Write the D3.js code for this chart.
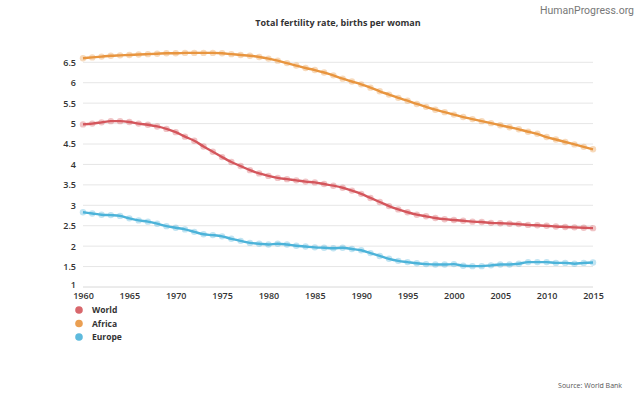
<!DOCTYPE html>
<html><head><meta charset="utf-8">
<script src="https://cdn.jsdelivr.net/npm/d3@7"></script>
<style>
html,body{margin:0;padding:0;background:#fff;}
svg{display:block;font-family:"Open Sans",sans-serif;}
</style></head>
<body>
<svg id="chart" width="643" height="398"></svg>
<script>
const years = d3.range(1960, 2016);
const world = [4.98,5.00,5.03,5.06,5.06,5.04,5.00,4.97,4.93,4.87,4.79,4.68,4.58,4.44,4.31,4.18,4.06,3.96,3.86,3.78,3.72,3.67,3.64,3.61,3.58,3.56,3.52,3.48,3.43,3.36,3.28,3.18,3.08,2.98,2.90,2.83,2.77,2.73,2.69,2.66,2.64,2.62,2.60,2.59,2.57,2.56,2.55,2.54,2.52,2.51,2.50,2.48,2.47,2.46,2.45,2.44];
const africa = [6.60,6.62,6.64,6.66,6.67,6.68,6.69,6.70,6.71,6.72,6.72,6.73,6.73,6.73,6.73,6.72,6.70,6.68,6.66,6.63,6.59,6.54,6.48,6.42,6.36,6.31,6.25,6.18,6.10,6.03,5.96,5.88,5.79,5.71,5.63,5.56,5.48,5.41,5.34,5.28,5.22,5.16,5.11,5.06,5.01,4.96,4.91,4.86,4.80,4.75,4.67,4.61,4.55,4.49,4.43,4.37];
const europe = [2.83,2.80,2.77,2.76,2.74,2.68,2.63,2.60,2.55,2.49,2.45,2.41,2.35,2.29,2.27,2.24,2.18,2.13,2.08,2.06,2.04,2.06,2.04,2.01,1.99,1.97,1.96,1.95,1.96,1.93,1.90,1.83,1.76,1.69,1.64,1.61,1.58,1.56,1.55,1.55,1.56,1.52,1.51,1.51,1.53,1.55,1.55,1.57,1.61,1.61,1.61,1.59,1.59,1.57,1.59,1.60];
const seriesNames = ["World","Africa","Europe"];
const seriesColors = ["#d4565c","#e8953f","#4cb3d9"];
const yTicks = [1,1.5,2,2.5,3,3.5,4,4.5,5,5.5,6,6.5];
const xTicks = [1960,1965,1970,1975,1980,1985,1990,1995,2000,2005,2010,2015];
const title = "Total fertility rate, births per woman";
const source = "Source: World Bank";
const brand = "HumanProgress.org";

const svg = d3.select("#chart");
const x = d3.scaleLinear().domain([1960, 2015]).range([83, 593]);
const y = d3.scaleLinear().domain([1, 6.5]).range([287, 62.3]);

// gridlines
svg.append("g").selectAll("line").data(yTicks).join("line")
  .attr("x1", x(1960)).attr("x2", x(2015))
  .attr("y1", d => y(d)).attr("y2", d => y(d))
  .attr("stroke", d => d === 1 ? "#d8d8d8" : "#e6e6e6").attr("stroke-width", 1);

// y axis labels
const yAxis = d3.axisLeft(y).tickValues(yTicks).tickSize(0).tickPadding(7).tickFormat(d3.format("~g"));
const gy = svg.append("g").attr("transform", `translate(${x(1960)},0)`).call(yAxis);
gy.select(".domain").remove();
gy.selectAll("text").attr("font-size", 9).attr("font-weight", 600).attr("fill", "#333").attr("font-family", "Open Sans");
gy.selectAll(".tick").filter(d => d === 1).select("text").attr("dy", "0.1em");

// x axis labels
const xAxis = d3.axisBottom(x).tickValues(xTicks).tickSize(0).tickPadding(6).tickFormat(d3.format("d"));
const gx = svg.append("g").attr("transform", `translate(0,${y(1)})`).call(xAxis);
gx.select(".domain").remove();
gx.selectAll("text").attr("font-size", 9).attr("font-weight", 600).attr("fill", "#333").attr("font-family", "Open Sans");

// series
const data = [world, africa, europe];
const line = d3.line().x((d, i) => x(years[i])).y(d => y(d)).curve(d3.curveMonotoneX);
data.forEach((vals, k) => {
  const g = svg.append("g");
  g.selectAll("circle").data(vals).join("circle")
    .attr("cx", (d, i) => x(years[i])).attr("cy", d => y(d)).attr("r", 3.2)
    .attr("fill", seriesColors[k]).attr("fill-opacity", 0.35);
  g.append("path").datum(vals).attr("d", line)
    .attr("fill", "none").attr("stroke", seriesColors[k]).attr("stroke-width", 2.4);
});

// legend
const lg = svg.append("g");
seriesNames.forEach((n, i) => {
  const yy = 310 + i * 13.5;
  lg.append("circle").attr("cx", 79).attr("cy", yy).attr("r", 3.8).attr("fill", seriesColors[i]).attr("fill-opacity", 0.9);
  lg.append("text").attr("x", 92).attr("y", yy + 3).text(n)
    .attr("font-size", 8.5).attr("font-weight", 700).attr("fill", "#333");
});

// title and texts
svg.append("text").attr("x", 338).attr("y", 26).attr("text-anchor", "middle").text(title)
  .attr("font-size", 9).attr("font-weight", 700).attr("fill", "#333");
svg.append("text").attr("x", 634).attr("y", 14).attr("text-anchor", "end").text(brand)
  .attr("font-size", 10.5).attr("fill", "#777").attr("font-family", "Roboto, sans-serif");
svg.append("text").attr("x", 622).attr("y", 388).attr("text-anchor", "end").text(source)
  .attr("font-size", 7).attr("fill", "#555");
</script>
</body></html>
